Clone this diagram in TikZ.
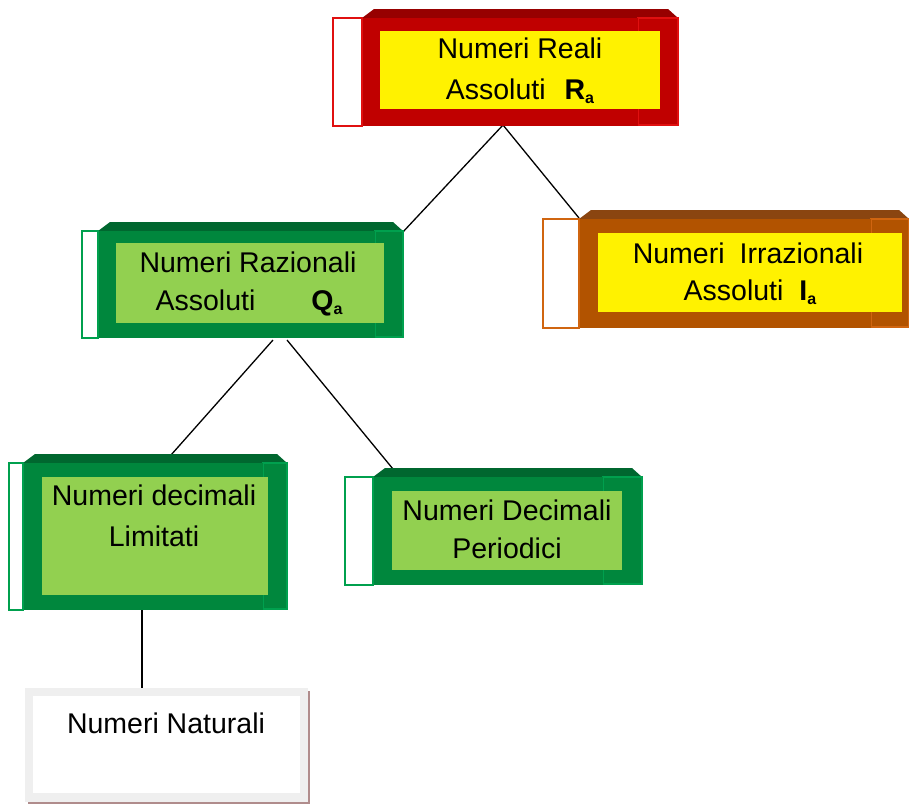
\documentclass[tikz,border=0pt]{standalone}
\usepackage{fontspec}
\setmainfont{Liberation Sans}
\definecolor{redmain}{HTML}{C00000}
\definecolor{redtop}{HTML}{970000}
\definecolor{rededge}{HTML}{E01010}
\definecolor{greenmain}{HTML}{00873D}
\definecolor{greentop}{HTML}{00672F}
\definecolor{greenedge}{HTML}{00A04E}
\definecolor{orangemain}{HTML}{B25300}
\definecolor{orangetop}{HTML}{8A4510}
\definecolor{orangeedge}{HTML}{D06510}
\definecolor{lightgreen}{HTML}{92D050}
\definecolor{paleframe}{HTML}{EFEFEF}
\definecolor{shadowbrown}{HTML}{B08C8C}
\tikzset{
  label/.style={anchor=base, inner sep=0pt, font=\fontsize{28.5}{34}\selectfont},
  link/.style={draw=black, line width=1.3pt},
}
\newcommand\sub[1]{\raisebox{-4pt}{\fontsize{16}{16}\selectfont\bfseries #1}}
% #1 tab left, #2 front left, #3 front right, #4 side right, #5 top, #6 bottom, #7 colour prefix
\newcommand\ebox[7]{%
  \fill[#7top] (#2,#5) -- (#2+12,#5-9) -- (#4-10,#5-9) -- (#4,#5) -- cycle;
  \filldraw[fill=#7main, draw=#7edge, line width=1.2pt] (#3,#5) rectangle (#4,#6-1);
  \fill[#7main] (#2,#5) rectangle (#3,#6);
  \filldraw[fill=white, draw=#7edge, line width=1.5pt] (#1,#5) rectangle (#2,#6);
}
\begin{document}
\begin{tikzpicture}[x=1pt,y=-1pt]
\useasboundingbox (0,0) rectangle (909,804);
% connector end points
\coordinate (realiB) at (503,125);
\coordinate (razioTR) at (402,233);
\coordinate (irrTL) at (579,218);
\coordinate (razioB1) at (273,340);
\coordinate (razioB2) at (287,340);
\coordinate (limT) at (171,455);
\coordinate (perT) at (393,469);
\coordinate (limB) at (142,610);
\coordinate (natT) at (142,688);
\draw[link] (realiB) -- (razioTR);
\draw[link] (realiB) -- (irrTL);
\draw[link] (razioB1) -- (limT);
\draw[link] (razioB2) -- (perT);
\draw[link] (limB) -- (natT);
% Numeri Reali
\ebox{333}{362}{638}{678}{18}{126}{red}
\fill[yellow] (380,31) rectangle (660,109);
\node[label] (reali1) at (520,58) {Numeri Reali};
\node[label] (reali2) at (520,99) {Assoluti\hspace{19pt}\textbf{R}\sub{a}};
% Numeri Razionali
\ebox{82}{98}{375}{403}{231}{338}{green}
\fill[lightgreen] (116,243) rectangle (384,323);
\node[label] (razio1) at (248,272) {Numeri Razionali};
\node[label] (razio2) at (249,310) {Assoluti\hspace{56pt}\textbf{Q}\sub{a}};
% Numeri Irrazionali
\ebox{543}{579}{871}{909}{219}{328}{orange}
\fill[yellow] (598,233) rectangle (902,312);
\node[label] (irr1) at (748,263) {Numeri\hspace{15pt}Irrazionali};
\node[label] (irr2) at (750,300) {Assoluti\hspace{16pt}\textbf{I}\sub{a}};
% Numeri decimali Limitati
\ebox{9}{23}{263}{287}{463}{610}{green}
\fill[lightgreen] (42,477) rectangle (268,595);
\node[label] (lim1) at (154,505) {Numeri decimali};
\node[label] (lim2) at (154,546) {Limitati};
% Numeri Decimali Periodici
\ebox{345}{373}{603}{642}{477}{585}{green}
\fill[lightgreen] (392,491) rectangle (622,570);
\node[label] (per1) at (507,520) {Numeri Decimali};
\node[label] (per2) at (507,558) {Periodici};
% Numeri Naturali
\fill[shadowbrown] (28,691) rectangle (310,804);
\fill[paleframe] (25,688) rectangle (308,802);
\fill[white] (33,696) rectangle (300,793);
\node[label] (nat) at (166,733) {Numeri Naturali};
\end{tikzpicture}
\end{document}
